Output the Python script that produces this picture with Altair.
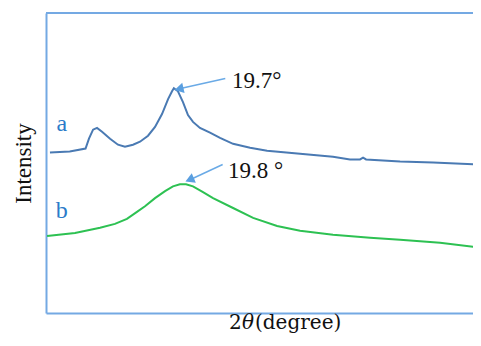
import altair as alt
import pandas as pd

# Curve a (2theta in degrees, intensity a.u.)
a_deg = [10.3, 11.8, 13.0, 13.26, 13.57, 13.87, 14.25, 14.86, 15.46, 15.99, 16.6, 17.13,
         17.74, 18.27, 18.8, 19.26, 19.56, 19.7, 20.01, 20.39, 20.77, 21.15, 21.68, 22.44,
         23.2, 24.19, 25.48, 26.77, 29.27, 31.77, 33.06, 33.82, 34.05, 34.28, 36.86, 39.36, 43.0]
a_int = [53.5, 53.8, 54.8, 58.1, 61.1, 61.7, 60.4, 58.1, 56.1, 55.4, 56.1, 57.1,
         59.1, 62.0, 66.3, 71.3, 73.9, 74.9, 73.9, 70.3, 66.0, 63.7, 61.7, 60.1,
         58.4, 56.4, 55.1, 54.1, 53.1, 52.1, 51.2, 51.2, 51.8, 51.2, 50.5, 50.2, 49.5]

# Curve b
b_deg = [10.08, 12.2, 14.1, 15.23, 16.14, 16.9, 17.51, 18.27, 19.03, 19.63, 20.16, 20.62,
         21.15, 21.91, 22.67, 24.19, 25.71, 27.53, 29.27, 31.77, 34.58, 36.86, 39.89, 43.0]
b_int = [25.7, 26.7, 28.4, 29.7, 31.4, 33.7, 35.6, 38.3, 40.6, 42.2, 42.9, 42.9,
         42.2, 40.3, 38.3, 35.0, 31.7, 29.0, 27.4, 26.1, 25.1, 24.4, 23.4, 21.8]

series_names = ["a", "b"]
series_colors = ["#4a7ab3", "#2dc152"]
label_deg = [11.2, 11.2]
label_int = [63.0, 34.0]

ann_text = ["19.7°", "19.8 °"]
ann_text_deg = [24.1, 23.8]
ann_text_int = [77.2, 47.5]
arrow_tail_deg = [23.6, 23.4]
arrow_tail_int = [78.2, 49.5]
arrow_head_deg = [20.2, 21.0]
arrow_head_int = [74.8, 44.6]
arrow_angle = [257, 247]

x_title_parts = ["2", "θ", "(degree)"]
x_title_styles = ["normal", "italic", "normal"]

X_MIN, X_MAX = 10, 42.39
Y_MIN, Y_MAX = 0, 100
W, H = 427, 300
FRAME = "#74a9e3"
FONT = "Liberation Serif"
TFONT = "DejaVu Serif"

df = pd.DataFrame({
    "deg": a_deg + b_deg,
    "intensity": a_int + b_int,
    "series": ["a"] * len(a_deg) + ["b"] * len(b_deg),
})
labels = pd.DataFrame({"deg": label_deg, "intensity": label_int, "series": series_names})
ann = pd.DataFrame({"deg": ann_text_deg, "intensity": ann_text_int, "text": ann_text})
arrows = pd.DataFrame({
    "deg": arrow_tail_deg + arrow_head_deg,
    "intensity": arrow_tail_int + arrow_head_int,
    "id": [0, 1, 0, 1],
    "order": [0, 0, 1, 1],
})
heads = pd.DataFrame({"deg": arrow_head_deg, "intensity": arrow_head_int, "angle": arrow_angle})
one = pd.DataFrame({"v": [0]})

xs = alt.Scale(domain=[X_MIN, X_MAX], nice=False, zero=False)
ys = alt.Scale(domain=[Y_MIN, Y_MAX], nice=False, zero=False)
cs = alt.Scale(domain=series_names, range=series_colors)

x_enc = alt.X("deg:Q", scale=xs, title=None,
              axis=alt.Axis(labels=False, ticks=False, grid=False, domainColor=FRAME,
                            domainWidth=2))
y_enc = alt.Y("intensity:Q", scale=ys, title="Intensity",
              axis=alt.Axis(labels=False, ticks=False, grid=False, domainColor=FRAME,
                            domainWidth=2, titleFont=FONT, titleFontSize=23,
                            titleFontWeight="normal", titleColor="#111111",
                            titlePadding=11))

lines = alt.Chart(df).mark_line(strokeWidth=2, clip=True).encode(
    x=x_enc, y=y_enc,
    color=alt.Color("series:N", scale=cs, legend=None),
)

top_border = alt.Chart(one).mark_rule(color=FRAME, strokeWidth=2).encode(
    x=alt.value(0), x2=alt.value(W), y=alt.value(0)
)

label_marks = alt.Chart(labels).mark_text(font=FONT, fontSize=24, color="#2b7bc9").encode(
    x=alt.X("deg:Q", scale=xs), y=alt.Y("intensity:Q", scale=ys), text="series:N"
)

ann_marks = alt.Chart(ann).mark_text(font=FONT, fontSize=23, align="left", color="#111111").encode(
    x=alt.X("deg:Q", scale=xs), y=alt.Y("intensity:Q", scale=ys), text="text:N"
)

arrow_lines = alt.Chart(arrows).mark_line(color="#6aaae6", strokeWidth=1.5).encode(
    x=alt.X("deg:Q", scale=xs), y=alt.Y("intensity:Q", scale=ys),
    detail="id:N", order="order:Q"
)

arrow_heads = alt.Chart(heads).mark_point(shape="triangle", filled=True, size=110,
                                          color="#5a9fe0", opacity=1).encode(
    x=alt.X("deg:Q", scale=xs), y=alt.Y("intensity:Q", scale=ys),
    angle=alt.Angle("angle:Q", scale=None)
)

# x-axis title "2θ(degree)" with italic θ, built from three text pieces
title_x = [183, 196, 209]
title_layers = []
for txt, sty, px in zip(x_title_parts, x_title_styles, title_x):
    title_layers.append(
        alt.Chart(one).mark_text(font=TFONT, fontSize=20, fontStyle=sty, align="left",
                                 baseline="alphabetic", color="#111111").encode(
            x=alt.value(px), y=alt.value(H + 16), text=alt.value(txt)
        )
    )

chart = alt.layer(lines, top_border, arrow_lines, arrow_heads, label_marks, ann_marks,
                  *title_layers).properties(
    width=W, height=H,
    background="white",
    autosize=alt.AutoSizeParams(type="none"),
    padding={"left": 38, "top": 5, "right": 0, "bottom": 21},
).configure_view(stroke="transparent", strokeWidth=0).configure_text(font=FONT)

chart.save("out.html", embed_options={"renderer": "svg", "actions": False})
